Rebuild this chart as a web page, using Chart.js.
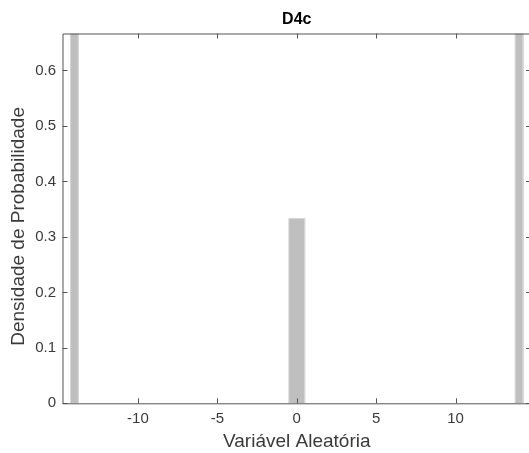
<!DOCTYPE html>
<html>
<head>
<meta charset="utf-8">
<script src="https://cdn.jsdelivr.net/npm/chart.js@4"></script>
<style>
  html, body { margin: 0; padding: 0; background: #fff; overflow: hidden; }
  canvas { display: block; }
</style>
</head>
<body>
<canvas id="hist" width="540" height="453"></canvas>
<script>
// histogram bins
const binLo   = [-14.25, -0.5, 13.75];
const binHi   = [-13.75,  0.5, 14.25];
const density = [0.6667, 0.3333, 0.6667];

const xTicks = [-10, -5, 0, 5, 10];
const yTicks = [0, 0.1, 0.2, 0.3, 0.4, 0.5, 0.6];
const yTickLabels = ["0", "0.1", "0.2", "0.3", "0.4", "0.5", "0.6"];
const yLabel = "Densidade de Probabilidade";

const AXIS_COLOR = "#555555";
const TEXT_COLOR = "#3a3a3a";
const FONT = "Liberation Sans, Arial, Helvetica, sans-serif";

// one closed outline per bin, filled down to zero
const barSets = binLo.map((lo, i) => ({
  data: [
    { x: lo, y: 0 },
    { x: lo, y: density[i] },
    { x: binHi[i], y: density[i] },
    { x: binHi[i], y: 0 }
  ],
  fill: "origin",
  backgroundColor: "#bfbfbf",
  borderColor: "#d6d6d6",
  borderWidth: 1,
  pointRadius: 0,
  tension: 0
}));

// matlab style box with inward ticks on all four sides, plus y label
const boxPlugin = {
  id: "boxTicks",
  afterDraw(chart) {
    const { ctx, chartArea: a, scales: { x, y } } = chart;
    const len = 5;
    ctx.save();
    ctx.strokeStyle = AXIS_COLOR;
    ctx.lineWidth = 1;
    ctx.beginPath();
    ctx.rect(a.left + 0.5, a.top + 0.5, a.right - a.left, a.bottom - a.top);
    xTicks.forEach(v => {
      const px = Math.round(x.getPixelForValue(v)) + 0.5;
      ctx.moveTo(px, a.bottom); ctx.lineTo(px, a.bottom - len);
      ctx.moveTo(px, a.top);    ctx.lineTo(px, a.top + len);
    });
    yTicks.forEach(v => {
      const py = Math.round(y.getPixelForValue(v)) + 0.5;
      ctx.moveTo(a.left, py);  ctx.lineTo(a.left + len, py);
      ctx.moveTo(a.right, py); ctx.lineTo(a.right - len, py);
    });
    ctx.stroke();

    // y label sits a little below the axis middle in the original
    ctx.translate(19, (a.top + a.bottom) / 2 + 8);
    ctx.rotate(-Math.PI / 2);
    ctx.fillStyle = TEXT_COLOR;
    ctx.font = "19px " + FONT;
    ctx.textAlign = "center";
    ctx.textBaseline = "middle";
    ctx.fillText(yLabel, 0, 0);
    ctx.restore();
  }
};

new Chart(document.getElementById("hist"), {
  type: "line",
  data: { datasets: barSets },
  options: {
    responsive: false,
    animation: false,
    layout: { padding: { left: 0, right: 9, top: 0, bottom: 0 } },
    plugins: {
      legend: { display: false },
      tooltip: { enabled: false },
      title: {
        display: true,
        text: "D4c",
        fullSize: false,
        color: "#000",
        font: { family: FONT, size: 16, weight: "bold", lineHeight: 1.2 },
        padding: { top: 9.9, bottom: 4.4 }
      }
    },
    scales: {
      x: {
        type: "linear",
        min: -14.75,
        max: 14.75,
        grid: { display: false, drawTicks: false },
        border: { display: false },
        afterBuildTicks: s => { s.ticks = xTicks.map(v => ({ value: v })); },
        afterFit: s => { s.height = 49.7; },
        ticks: {
          color: TEXT_COLOR,
          font: { family: FONT, size: 15 },
          padding: 7,
          maxRotation: 0,
          autoSkip: false
        },
        title: {
          display: true,
          text: "Variável Aleatória",
          color: TEXT_COLOR,
          font: { family: FONT, size: 19 },
          padding: { top: 0, bottom: 0 }
        }
      },
      y: {
        min: 0,
        max: 0.6667,
        grid: { display: false, drawTicks: false },
        border: { display: false },
        afterBuildTicks: s => { s.ticks = yTicks.map(v => ({ value: v })); },
        afterFit: s => { s.width = 62.5; },
        ticks: {
          color: TEXT_COLOR,
          font: { family: FONT, size: 15 },
          padding: 6.5,
          callback: (v, i) => yTickLabels[i]
        }
      }
    }
  },
  plugins: [boxPlugin]
});
</script>
</body>
</html>
